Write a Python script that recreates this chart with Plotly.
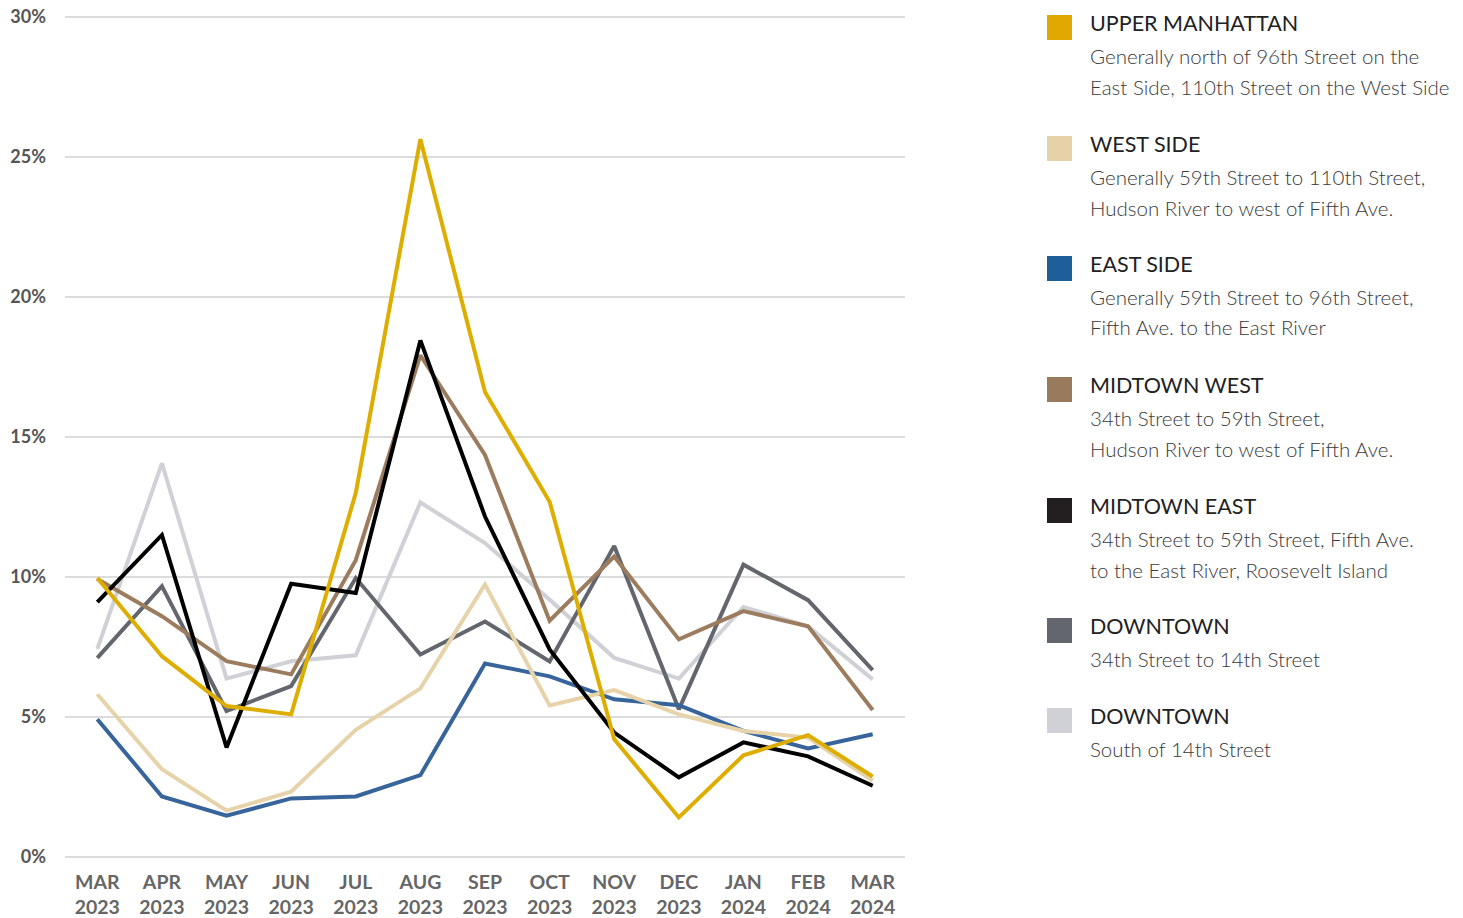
import plotly.graph_objects as go

months = ["MAR<br>2023", "APR<br>2023", "MAY<br>2023", "JUN<br>2023", "JUL<br>2023", "AUG<br>2023",
          "SEP<br>2023", "OCT<br>2023", "NOV<br>2023", "DEC<br>2023", "JAN<br>2024", "FEB<br>2024", "MAR<br>2024"]

upper_manhattan = [9.96, 7.17, 5.39, 5.09, 13.0, 25.64, 16.61, 12.69, 4.2, 1.41, 3.63, 4.35, 2.87]
west_side = [5.81, 3.13, 1.65, 2.33, 4.54, 6.02, 9.73, 5.41, 5.96, 5.09, 4.5, 4.26, 2.72]
east_side = [4.92, 2.16, 1.47, 2.09, 2.16, 2.92, 6.91, 6.45, 5.63, 5.42, 4.5, 3.87, 4.38]
midtown_west = [9.93, 8.6, 6.99, 6.52, 10.6, 17.92, 14.36, 8.44, 10.73, 7.77, 8.78, 8.24, 5.25]
midtown_east = [9.1, 11.5, 3.91, 9.76, 9.43, 18.45, 12.16, 7.41, 4.44, 2.84, 4.09, 3.59, 2.54]
downtown_34_14 = [7.11, 9.67, 5.21, 6.1, 9.96, 7.23, 8.41, 6.98, 11.11, 5.27, 10.44, 9.17, 6.67]
downtown_south14 = [7.43, 14.06, 6.37, 6.99, 7.2, 12.66, 11.21, 9.19, 7.11, 6.37, 8.93, 8.24, 6.34]

y_ticks = [0, 5, 10, 15, 20, 25, 30]
y_tick_labels = ["0%", "5%", "10%", "15%", "20%", "25%", "30%"]

legend_titles = ["UPPER MANHATTAN", "WEST SIDE", "EAST SIDE", "MIDTOWN WEST", "MIDTOWN EAST", "DOWNTOWN", "DOWNTOWN"]
legend_subs = [
    ["Generally north of 96th Street on the", "East Side, 110th Street on the West Side"],
    ["Generally 59th Street to 110th Street,", "Hudson River to west of Fifth Ave."],
    ["Generally 59th Street to 96th Street,", "Fifth Ave. to the East River"],
    ["34th Street to 59th Street,", "Hudson River to west of Fifth Ave."],
    ["34th Street to 59th Street, Fifth Ave.", "to the East River, Roosevelt Island"],
    ["34th Street to 14th Street"],
    ["South of 14th Street"],
]
legend_colors = ["#E0A800", "#E6D2A8", "#1F5F99", "#9A7A5C", "#231F20", "#63676D", "#D0D1D6"]

series = {
    "UPPER MANHATTAN": (upper_manhattan, "#DDAE00"),
    "WEST SIDE": (west_side, "#E6D3AA"),
    "EAST SIDE": (east_side, "#37649A"),
    "MIDTOWN WEST": (midtown_west, "#9C7C5E"),
    "MIDTOWN EAST": (midtown_east, "#000000"),
    "DOWNTOWN 34": (downtown_34_14, "#63676D"),
    "DOWNTOWN S14": (downtown_south14, "#D0D1D6"),
}
draw_order = ["DOWNTOWN S14", "DOWNTOWN 34", "EAST SIDE", "WEST SIDE", "MIDTOWN WEST", "MIDTOWN EAST", "UPPER MANHATTAN"]

OFF = 0  # page body margin removed via post_script
W, H = 1463, 918
L, T = 65, 16
pw, ph = 840, 842
R, B = W - L - pw, H - T - ph

fig = go.Figure()
xs = list(range(len(months)))
for key in draw_order:
    vals, col = series[key]
    fig.add_trace(go.Scatter(x=xs, y=vals, mode="lines", line=dict(color=col, width=4),
                             showlegend=False, hoverinfo="skip"))

def px_x(page_x):
    return (page_x - OFF - L) / pw

def px_y(page_y):
    return (T + ph - (page_y - OFF)) / ph

offsets = [0, 121, 241, 362, 483, 603, 693]
shapes = []
annotations = []
for i, title in enumerate(legend_titles):
    base = 27 + offsets[i]
    shapes.append(dict(type="rect", xref="paper", yref="paper",
                       x0=px_x(1047), x1=px_x(1072), y0=px_y(base + 13), y1=px_y(base - 12),
                       fillcolor=legend_colors[i], line=dict(width=0)))
    annotations.append(dict(xref="paper", yref="paper", x=px_x(1088), y=px_y(base - 4),
                            text=title, showarrow=False, xanchor="left", yanchor="middle",
                            font=dict(family="Lato", size=21.5, color="#222222")))
    for j, s in enumerate(legend_subs[i]):
        annotations.append(dict(xref="paper", yref="paper", x=px_x(1088), y=px_y(base + 29 + 30.5 * j),
                                text=s, showarrow=False, xanchor="left", yanchor="middle",
                                font=dict(family="Lato", size=20.5, color="#3A3A3A", weight=300)))

fig.update_layout(
    width=W, height=H,
    margin=dict(l=L, r=R, t=T, b=B, autoexpand=False),
    paper_bgcolor="white", plot_bgcolor="white",
    shapes=shapes, annotations=annotations,
    xaxis=dict(range=[-0.5, len(months) - 0.5], tickmode="array", tickvals=xs, ticktext=months,
               showgrid=False, zeroline=False, showline=False, ticks="", automargin=False,
               ticklabelstandoff=10, ticklabeloverflow="allow",
               tickfont=dict(family="Lato", size=19.5, color="#666666", weight="bold"),
               fixedrange=True),
    yaxis=dict(range=[-0.04, 30.04], tickmode="array", tickvals=y_ticks, ticktext=y_tick_labels,
               showgrid=True, gridcolor="#DCDCDC", gridwidth=2, zeroline=False, showline=False,
               ticks="", ticklabelstandoff=18, automargin=False, ticklabeloverflow="allow",
               tickfont=dict(family="Lato", size=18, color="#555555", weight="bold"),
               fixedrange=True),
)

fig.write_html("out.html", config={"displayModeBar": False},
               post_script="document.body.style.margin='0';document.body.style.overflow='hidden';")
